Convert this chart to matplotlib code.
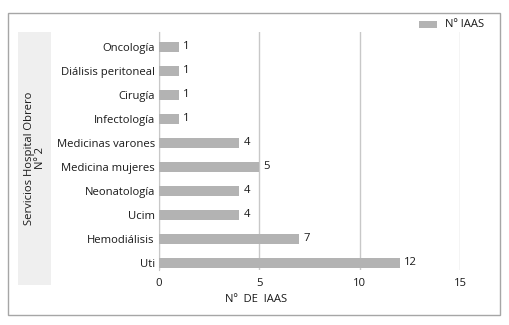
import matplotlib
matplotlib.use("Agg")
import matplotlib.pyplot as plt
from matplotlib.patches import Rectangle

categories = ["Uti", "Hemodiálisis", "Ucim", "Neonatología", "Medicina mujeres",
              "Medicinas varones", "Infectología", "Cirugía", "Diálisis peritoneal", "Oncología"]
values = [12, 7, 4, 4, 5, 4, 1, 1, 1, 1]
xticks = [0, 5, 10, 15]

plt.rcParams['font.family'] = ['Open Sans', 'DejaVu Sans']
FS = 8.1
TC = '#1a1a1a'

W, H = 510, 325
fig = plt.figure(figsize=(W/100, H/100), dpi=100)

def fx(px): return px / W
def fy(py): return 1 - py / H

# outer border
fig.patches.append(Rectangle((fx(8), fy(315)), fx(500) - fx(8), fy(13) - fy(315),
                             transform=fig.transFigure, fill=False, edgecolor='#a6a6a6', lw=1))
# gray side panel
fig.patches.append(Rectangle((fx(18), fy(285)), fx(51) - fx(18), fy(32) - fy(285),
                             transform=fig.transFigure, facecolor='#efefef', edgecolor='none'))
fig.text(fx(35), fy(158), "Servicios Hospital Obrero\nNº 2", rotation=90, ha='center', va='center',
         fontsize=FS, color=TC, linespacing=1.0)

ax = fig.add_axes([fx(159), fy(270), fx(460) - fx(159), fy(32) - fy(270)])
ypos = list(range(len(categories)))
ax.barh(ypos, values, height=0.4, color='#b3b3b3', zorder=3)
for y, v in zip(ypos, values):
    ax.text(v + 0.2, y, str(v), va='center', ha='left', fontsize=FS, color=TC)
ax.set_xlim(0, 15)
ax.set_ylim(-0.3, 9.62)
ax.set_yticks(ypos)
ax.set_yticklabels(categories, fontsize=FS, color=TC)
ax.set_xticks(xticks)
ax.set_xticklabels([str(t) for t in xticks], fontsize=FS, color=TC)
ax.tick_params(length=0, pad=3)
ax.tick_params(axis='x', pad=6)
ax.grid(axis='x', color='#c8c8c8', lw=1, zorder=0)
for s in ['top', 'right', 'bottom']:
    ax.spines[s].set_visible(False)
ax.spines['left'].set_color('#c8c8c8')
ax.spines['left'].set_zorder(1)
ax.set_facecolor('none')

fig.text(fx(256), fy(300), "Nº  DE  IAAS", ha='center', va='center', fontsize=FS, color=TC)

# legend
fig.patches.append(Rectangle((fx(419), fy(28)), fx(437) - fx(419), fy(21) - fy(28),
                             transform=fig.transFigure, facecolor='#b3b3b3', edgecolor='none'))
fig.text(fx(445), fy(24.5), "Nº IAAS", ha='left', va='center', fontsize=FS, color=TC)

fig.savefig("out.png", dpi=100)
